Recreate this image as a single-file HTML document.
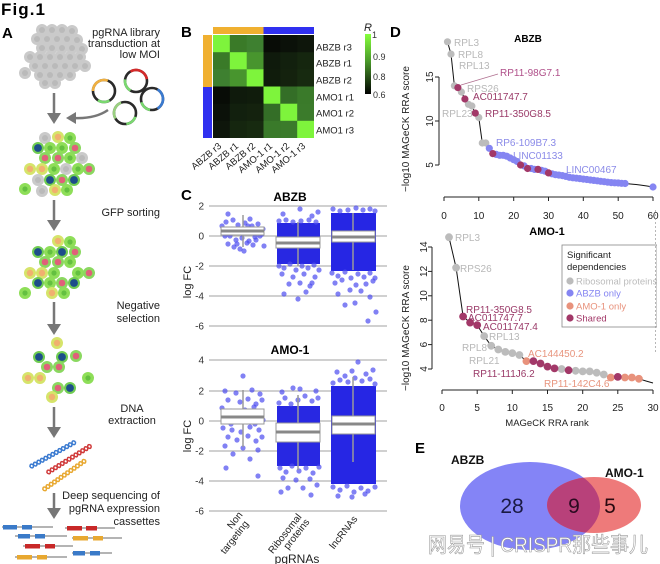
<!DOCTYPE html>
<html><head><meta charset="utf-8"><style>
html,body{margin:0;padding:0;background:#fff;}
svg{display:block;}
text{font-family:"Liberation Sans",Arial,sans-serif;}
</style></head><body>
<svg width="660" height="564" viewBox="0 0 660 564" xmlns="http://www.w3.org/2000/svg">
<defs>
<linearGradient id="cb" x1="0" y1="0" x2="0" y2="1">
<stop offset="0" stop-color="#86ff3c"/><stop offset="0.45" stop-color="#4a9a2a"/><stop offset="1" stop-color="#000"/>
</linearGradient>
<clipPath id="redclip"><ellipse cx="594" cy="505" rx="47" ry="28"/></clipPath>
<g id="cg"><circle r="6" fill="#cacaca"/><circle r="3" fill="#bababa"/></g>
<g id="cG"><circle r="6" fill="#8ede58"/><circle r="2.6" fill="#64c040"/></g>
<g id="cB"><circle r="6" fill="#70cc52"/><circle r="3.9" fill="#1d4d8a"/></g>
<g id="cP"><circle r="6" fill="#8ad860"/><circle r="3.3" fill="#e0607a"/></g>
<g id="cY"><circle r="6" fill="#d6e46a"/><circle r="3.2" fill="#f0b070"/></g>
<path id="wave1" d="M0,0 Q2,-4 4,0 T8,0 T12,0 T16,0 T20,0 T24,0 T28,0 T32,0 T36,0 T40,0 T44,0 T48,0 T52,0" fill="none"/>
<path id="wave2" d="M0,0 Q2,4 4,0 T8,0 T12,0 T16,0 T20,0 T24,0 T28,0 T32,0 T36,0 T40,0 T44,0 T48,0 T52,0" fill="none"/>
</defs>
<rect width="660" height="564" fill="#fff"/>

<!-- ============ PANEL A ============ -->
<text x="1" y="15" font-size="17" font-weight="bold" textLength="44">Fig.1</text>
<text x="2" y="38" font-size="15" font-weight="bold">A</text>

<g font-size="11" fill="#222" text-anchor="end">
<text x="160" y="36">pgRNA library</text>
<text x="160" y="47">transduction at</text>
<text x="160" y="58">low MOI</text>
<text x="160" y="216">GFP sorting</text>
<text x="160" y="309">Negative</text>
<text x="160" y="322">selection</text>
<text x="160" y="499">Deep sequencing of</text>
<text x="160" y="512">pgRNA expression</text>
<text x="160" y="525">cassettes</text>
</g>
<g font-size="11" fill="#222" text-anchor="middle">
<text x="132" y="412">DNA</text>
<text x="132" y="424">extraction</text>
</g>

<!-- gray cluster -->
<g>
<use href="#cg" x="42" y="30"/><use href="#cg" x="52" y="30"/><use href="#cg" x="62" y="30"/><use href="#cg" x="72" y="31"/>
<use href="#cg" x="37" y="39"/><use href="#cg" x="47" y="39"/><use href="#cg" x="57" y="39"/><use href="#cg" x="67" y="39"/><use href="#cg" x="77" y="40"/>
<use href="#cg" x="42" y="48"/><use href="#cg" x="52" y="48"/><use href="#cg" x="62" y="48"/><use href="#cg" x="72" y="48"/><use href="#cg" x="82" y="49"/>
<use href="#cg" x="30" y="57"/><use href="#cg" x="40" y="57"/><use href="#cg" x="50" y="57"/><use href="#cg" x="60" y="57"/><use href="#cg" x="70" y="57"/><use href="#cg" x="80" y="57"/>
<use href="#cg" x="35" y="66"/><use href="#cg" x="45" y="66"/><use href="#cg" x="55" y="66"/><use href="#cg" x="65" y="66"/><use href="#cg" x="75" y="66"/><use href="#cg" x="85" y="66"/>
<use href="#cg" x="25" y="73"/><use href="#cg" x="40" y="75"/><use href="#cg" x="50" y="75"/><use href="#cg" x="60" y="75"/><use href="#cg" x="70" y="75"/>
<use href="#cg" x="45" y="83"/><use href="#cg" x="55" y="83"/>
</g>

<!-- plasmids -->
<g fill="none" stroke-width="2.6">
<circle cx="136" cy="81" r="11" stroke="#2a2a2a"/>
<circle cx="136" cy="81" r="11" stroke="#d42a2a" stroke-dasharray="21 48.1" transform="rotate(-120 136 81)"/>
<circle cx="136" cy="81" r="11" stroke="#7ad870" stroke-dasharray="13 56.1" transform="rotate(120 136 81)"/>
<circle cx="104" cy="91" r="11" stroke="#2a2a2a"/>
<circle cx="104" cy="91" r="11" stroke="#f0b040" stroke-dasharray="21 48.1" transform="rotate(180 104 91)"/>
<circle cx="104" cy="91" r="11" stroke="#7ad870" stroke-dasharray="12 57.1" transform="rotate(60 104 91)"/>
<circle cx="152" cy="99" r="11" stroke="#2a2a2a"/>
<circle cx="152" cy="99" r="11" stroke="#3a7ad0" stroke-dasharray="23 46.1" transform="rotate(-60 152 99)"/>
<circle cx="152" cy="99" r="11" stroke="#7ad870" stroke-dasharray="12 57.1" transform="rotate(100 152 99)"/>
<circle cx="125" cy="113" r="11" stroke="#2a2a2a"/>
<circle cx="125" cy="113" r="11" stroke="#9ad080" stroke-dasharray="19 50.1" transform="rotate(150 125 113)"/>
<circle cx="125" cy="113" r="11" stroke="#7ad870" stroke-dasharray="12 57.1" transform="rotate(20 125 113)"/>
</g>
<path d="M108,110 Q95,119 74,118" fill="none" stroke="#777" stroke-width="2.5"/>
<polygon points="66,118 76,112 76,124" fill="#777"/>

<g fill="#777" stroke="#777" stroke-width="2.5">
<line x1="54" y1="93" x2="54" y2="114"/><polygon stroke="none" points="47,113 61,113 54,124"/>
<line x1="54" y1="200" x2="54" y2="221"/><polygon stroke="none" points="47,220 61,220 54,231"/>
<line x1="54" y1="302" x2="54" y2="325"/><polygon stroke="none" points="47,324 61,324 54,335"/>
<line x1="54" y1="407" x2="54" y2="428"/><polygon stroke="none" points="47,427 61,427 54,438"/>
<line x1="54" y1="493" x2="54" y2="509"/><polygon stroke="none" points="47,508 61,508 54,519"/>
</g>

<g>
<use href="#cg" x="45" y="138"/><use href="#cY" x="58" y="137"/><use href="#cG" x="70" y="138"/>
<use href="#cB" x="38" y="148"/><use href="#cG" x="50" y="148"/><use href="#cG" x="62" y="148"/><use href="#cP" x="75" y="148"/>
<use href="#cP" x="45" y="158"/><use href="#cP" x="58" y="158"/><use href="#cG" x="70" y="158"/><use href="#cg" x="82" y="158"/>
<use href="#cY" x="30" y="169"/><use href="#cY" x="42" y="169"/><use href="#cG" x="54" y="169"/><use href="#cg" x="66" y="169"/><use href="#cG" x="78" y="169"/><use href="#cP" x="89" y="169"/>
<use href="#cg" x="38" y="180"/><use href="#cB" x="50" y="180"/><use href="#cP" x="62" y="180"/><use href="#cB" x="74" y="180"/>
<use href="#cG" x="25" y="189"/><use href="#cg" x="42" y="191"/><use href="#cY" x="55" y="190"/><use href="#cG" x="67" y="190"/>
</g>
<g>
<use href="#cY" x="58" y="241"/><use href="#cG" x="70" y="242"/>
<use href="#cB" x="38" y="252"/><use href="#cG" x="50" y="252"/><use href="#cB" x="62" y="252"/><use href="#cP" x="75" y="252"/>
<use href="#cP" x="45" y="262"/><use href="#cP" x="58" y="262"/><use href="#cG" x="70" y="262"/>
<use href="#cY" x="30" y="273"/><use href="#cY" x="42" y="273"/><use href="#cG" x="54" y="273"/><use href="#cG" x="78" y="273"/><use href="#cP" x="89" y="273"/>
<use href="#cB" x="38" y="283"/><use href="#cG" x="50" y="283"/><use href="#cP" x="62" y="283"/><use href="#cB" x="74" y="283"/>
<use href="#cG" x="25" y="293"/><use href="#cY" x="52" y="293"/><use href="#cG" x="64" y="293"/>
</g>
<g>
<use href="#cY" x="57" y="343"/>
<use href="#cB" x="39" y="357"/><use href="#cB" x="62" y="357"/><use href="#cP" x="76" y="356"/>
<use href="#cP" x="47" y="367"/><use href="#cP" x="59" y="367"/>
<use href="#cY" x="28" y="378"/><use href="#cY" x="40" y="378"/><use href="#cG" x="88" y="378"/>
<use href="#cP" x="58" y="388"/><use href="#cB" x="70" y="388"/>
<use href="#cY" x="52" y="397"/>
</g>

<g stroke-width="1.5">
<g transform="translate(30,467) rotate(-29)" stroke="#3a7ad0"><use href="#wave1"/><use href="#wave2"/></g>
<g transform="translate(47,473) rotate(-32)" stroke="#d03a3a"><use href="#wave1"/><use href="#wave2"/></g>
<g transform="translate(43,490) rotate(-35)" stroke="#e8a830"><use href="#wave1"/><use href="#wave2"/></g>
</g>

<g stroke="#888" stroke-width="1.2">
<line x1="2" y1="527" x2="53" y2="527"/><line x1="65" y1="528" x2="115" y2="528"/>
<line x1="15" y1="536" x2="67" y2="536"/><line x1="72" y1="538" x2="122" y2="538"/>
<line x1="23" y1="546" x2="73" y2="546"/><line x1="72" y1="553" x2="112" y2="553"/>
<line x1="15" y1="557" x2="67" y2="557"/>
</g>
<g>
<rect x="3" y="525" width="14" height="4.5" fill="#3a7ac8"/><rect x="22" y="525" width="10" height="4.5" fill="#3a7ac8"/>
<rect x="67" y="526" width="15" height="4.5" fill="#c82828"/><rect x="86" y="526" width="11" height="4.5" fill="#c82828"/>
<rect x="18" y="534" width="12" height="4.5" fill="#3a7ac8"/><rect x="35" y="534" width="10" height="4.5" fill="#3a7ac8"/>
<rect x="73" y="536" width="15" height="4.5" fill="#e8a830"/><rect x="93" y="536" width="10" height="4.5" fill="#e8a830"/>
<rect x="25" y="544" width="15" height="4.5" fill="#c82828"/><rect x="45" y="544" width="10" height="4.5" fill="#c82828"/>
<rect x="73" y="551" width="12" height="4.5" fill="#3a7ac8"/><rect x="90" y="551" width="10" height="4.5" fill="#3a7ac8"/>
<rect x="17" y="555" width="15" height="4.5" fill="#e8a830"/><rect x="37" y="555" width="10" height="4.5" fill="#e8a830"/>
</g>

<!-- ============ PANEL B ============ -->
<text x="181" y="37" font-size="15" font-weight="bold">B</text>
<rect x="213" y="27" width="50.5" height="7" fill="#f0b030"/>
<rect x="263.5" y="27" width="50.5" height="7" fill="#3030f0"/>
<rect x="203" y="35" width="9" height="52" fill="#f0b030"/>
<rect x="203" y="87" width="9" height="51" fill="#3030f0"/>
<g>
<rect x="213" y="35" width="17.2" height="17.6" fill="#7ef43c"/>
<rect x="229.8" y="35" width="17.2" height="17.6" fill="#3a7a28"/>
<rect x="246.7" y="35" width="17.2" height="17.6" fill="#3e8030"/>
<rect x="263.5" y="35" width="17.2" height="17.6" fill="#080c06"/>
<rect x="280.3" y="35" width="17.2" height="17.6" fill="#0b1109"/>
<rect x="297.2" y="35" width="16.8" height="17.6" fill="#0e160b"/>
<rect x="213" y="52.2" width="17.2" height="17.6" fill="#3a7a28"/>
<rect x="229.8" y="52.2" width="17.2" height="17.6" fill="#7ef43c"/>
<rect x="246.7" y="52.2" width="17.2" height="17.6" fill="#48952e"/>
<rect x="263.5" y="52.2" width="17.2" height="17.6" fill="#0f1a0c"/>
<rect x="280.3" y="52.2" width="17.2" height="17.6" fill="#12200e"/>
<rect x="297.2" y="52.2" width="16.8" height="17.6" fill="#15260f"/>
<rect x="213" y="69.3" width="17.2" height="17.6" fill="#3e8030"/>
<rect x="229.8" y="69.3" width="17.2" height="17.6" fill="#48952e"/>
<rect x="246.7" y="69.3" width="17.2" height="17.6" fill="#7ef43c"/>
<rect x="263.5" y="69.3" width="17.2" height="17.6" fill="#101c0c"/>
<rect x="280.3" y="69.3" width="17.2" height="17.6" fill="#14220e"/>
<rect x="297.2" y="69.3" width="16.8" height="17.6" fill="#172a10"/>
<rect x="213" y="86.5" width="17.2" height="17.6" fill="#080c06"/>
<rect x="229.8" y="86.5" width="17.2" height="17.6" fill="#0f1a0c"/>
<rect x="246.7" y="86.5" width="17.2" height="17.6" fill="#101c0c"/>
<rect x="263.5" y="86.5" width="17.2" height="17.6" fill="#7ef43c"/>
<rect x="280.3" y="86.5" width="17.2" height="17.6" fill="#346e27"/>
<rect x="297.2" y="86.5" width="16.8" height="17.6" fill="#3a7a2a"/>
<rect x="213" y="103.7" width="17.2" height="17.6" fill="#0b1109"/>
<rect x="229.8" y="103.7" width="17.2" height="17.6" fill="#12200e"/>
<rect x="246.7" y="103.7" width="17.2" height="17.6" fill="#14220e"/>
<rect x="263.5" y="103.7" width="17.2" height="17.6" fill="#346e27"/>
<rect x="280.3" y="103.7" width="17.2" height="17.6" fill="#7ef43c"/>
<rect x="297.2" y="103.7" width="16.8" height="17.6" fill="#3b7b2b"/>
<rect x="213" y="120.8" width="17.2" height="17.2" fill="#0e160b"/>
<rect x="229.8" y="120.8" width="17.2" height="17.2" fill="#15260f"/>
<rect x="246.7" y="120.8" width="17.2" height="17.2" fill="#172a10"/>
<rect x="263.5" y="120.8" width="17.2" height="17.2" fill="#3a7a2a"/>
<rect x="280.3" y="120.8" width="17.2" height="17.2" fill="#3b7b2b"/>
<rect x="297.2" y="120.8" width="16.8" height="17.2" fill="#7ef43c"/>
</g>
<g font-size="9.5" fill="#222">
<text x="316" y="50.5">ABZB r3</text>
<text x="316" y="66.5">ABZB r1</text>
<text x="316" y="83.5">ABZB r2</text>
<text x="316" y="100.5">AMO1 r1</text>
<text x="316" y="116.5">AMO1 r2</text>
<text x="316" y="133.5">AMO1 r3</text>
</g>
<g font-size="9.5" fill="#222" text-anchor="end">
<text transform="translate(222,147) rotate(-40)">ABZB r3</text>
<text transform="translate(239,147) rotate(-40)">ABZB r1</text>
<text transform="translate(256,147) rotate(-40)">ABZB r2</text>
<text transform="translate(273,147) rotate(-40)">AMO-1 r1</text>
<text transform="translate(290,147) rotate(-40)">AMO-1 r2</text>
<text transform="translate(306,147) rotate(-40)">AMO-1 r3</text>
</g>
<rect x="365" y="34" width="6" height="60" fill="url(#cb)"/>
<text x="364" y="31" font-size="11" font-style="italic" fill="#222">R</text>
<g font-size="9" fill="#333">
<text x="372" y="38">1</text>
<text x="373" y="60">0.9</text>
<text x="373" y="80">0.8</text>
<text x="373" y="98">0.6</text>
</g>

<!-- ============ PANEL C ============ -->
<text x="181" y="200" font-size="15" font-weight="bold">C</text>
<text x="290" y="201" font-size="12" font-weight="bold" text-anchor="middle">ABZB</text>
<text x="290" y="354" font-size="12" font-weight="bold" text-anchor="middle">AMO-1</text>
<g stroke="#b4b4b4" stroke-width="1.3">
<line x1="209" y1="206" x2="387" y2="206"/><line x1="209" y1="236" x2="387" y2="236"/><line x1="209" y1="266" x2="387" y2="266"/><line x1="209" y1="296" x2="387" y2="296"/><line x1="209" y1="326" x2="387" y2="326"/>
<line x1="209" y1="360" x2="387" y2="360"/><line x1="209" y1="391" x2="387" y2="391"/><line x1="209" y1="421" x2="387" y2="421"/><line x1="209" y1="451" x2="387" y2="451"/><line x1="209" y1="481" x2="387" y2="481"/><line x1="209" y1="511" x2="387" y2="511"/>
</g>
<g font-size="10" fill="#333" text-anchor="end">
<text x="204" y="209.5">2</text><text x="204" y="239.5">0</text><text x="204" y="269.5">-2</text><text x="204" y="299.5">-4</text><text x="204" y="329.5">-6</text>
<text x="204" y="363.5">4</text><text x="204" y="394.5">2</text><text x="204" y="424.5">0</text><text x="204" y="454.5">-2</text><text x="204" y="484.5">-4</text><text x="204" y="514.5">-6</text>
</g>
<g font-size="11" fill="#222" text-anchor="middle">
<text transform="translate(191,282) rotate(-90)">log FC</text>
<text transform="translate(191,436) rotate(-90)">log FC</text>
</g>

<g fill="#4c4cf0" fill-opacity="0.7">
<rect x="277" y="223" width="43" height="41" fill="#2828e2" fill-opacity="1"/>
<rect x="331" y="213" width="45" height="58" fill="#2626e4" fill-opacity="1"/>
<circle cx="226" cy="222" r="2.6"/><circle cx="232" cy="229" r="2.6"/><circle cx="238" cy="225" r="2.6"/><circle cx="245" cy="223" r="2.6"/><circle cx="252" cy="226" r="2.6"/><circle cx="258" cy="224" r="2.6"/><circle cx="224" cy="231" r="2.6"/><circle cx="230" cy="236" r="2.6"/><circle cx="236" cy="240" r="2.6"/><circle cx="242" cy="238" r="2.6"/><circle cx="249" cy="241" r="2.6"/><circle cx="255" cy="237" r="2.6"/><circle cx="262" cy="234" r="2.6"/><circle cx="228" cy="244" r="2.6"/><circle cx="234" cy="247" r="2.6"/><circle cx="240" cy="249" r="2.6"/><circle cx="247" cy="243" r="2.6"/><circle cx="253" cy="245" r="2.6"/><circle cx="260" cy="236" r="2.6"/><circle cx="225" cy="236" r="2.6"/><circle cx="233" cy="220" r="2.6"/><circle cx="250" cy="219" r="2.6"/><circle cx="257" cy="230" r="2.6"/><circle cx="222" cy="226" r="2.6"/><circle cx="263" cy="229" r="2.6"/><circle cx="244" cy="251" r="2.6"/><circle cx="237" cy="244" r="2.6"/><circle cx="256" cy="240" r="2.6"/><circle cx="248" cy="226" r="2.6"/><circle cx="264" cy="246" r="2.6"/><circle cx="228" cy="214" r="2.6"/>
<circle cx="279" cy="221" r="2.6"/><circle cx="286" cy="220" r="2.6"/><circle cx="293" cy="222" r="2.6"/><circle cx="301" cy="221" r="2.6"/><circle cx="309" cy="220" r="2.6"/><circle cx="316" cy="222" r="2.6"/><circle cx="283" cy="214" r="2.6"/><circle cx="300" cy="209" r="2.6"/><circle cx="312" cy="216" r="2.6"/><circle cx="318" cy="212" r="2.6"/>
<circle cx="279" cy="266" r="2.6"/><circle cx="284" cy="268" r="2.6"/><circle cx="290" cy="264" r="2.6"/><circle cx="296" cy="270" r="2.6"/><circle cx="302" cy="266" r="2.6"/><circle cx="308" cy="268" r="2.6"/><circle cx="314" cy="265" r="2.6"/><circle cx="319" cy="270" r="2.6"/><circle cx="282" cy="274" r="2.6"/><circle cx="293" cy="277" r="2.6"/><circle cx="304" cy="274" r="2.6"/><circle cx="315" cy="277" r="2.6"/><circle cx="289" cy="284" r="2.6"/><circle cx="300" cy="283" r="2.6"/><circle cx="310" cy="286" r="2.6"/><circle cx="284" cy="294" r="2.6"/><circle cx="306" cy="292" r="2.6"/><circle cx="298" cy="299" r="2.6"/><circle cx="312" cy="283" r="2.6"/>
<circle cx="333" cy="209" r="2.6"/><circle cx="340" cy="211" r="2.6"/><circle cx="348" cy="210" r="2.6"/><circle cx="356" cy="208" r="2.6"/><circle cx="363" cy="210" r="2.6"/><circle cx="370" cy="209" r="2.6"/><circle cx="375" cy="211" r="2.6"/>
<circle cx="332" cy="273" r="2.6"/><circle cx="338" cy="276" r="2.6"/><circle cx="345" cy="272" r="2.6"/><circle cx="351" cy="278" r="2.6"/><circle cx="358" cy="274" r="2.6"/><circle cx="364" cy="277" r="2.6"/><circle cx="370" cy="273" r="2.6"/><circle cx="375" cy="278" r="2.6"/><circle cx="335" cy="283" r="2.6"/><circle cx="342" cy="280" r="2.6"/><circle cx="356" cy="285" r="2.6"/><circle cx="366" cy="284" r="2.6"/><circle cx="373" cy="281" r="2.6"/><circle cx="338" cy="294" r="2.6"/><circle cx="350" cy="290" r="2.6"/><circle cx="361" cy="291" r="2.6"/><circle cx="345" cy="305" r="2.6"/><circle cx="355" cy="303" r="2.6"/><circle cx="370" cy="297" r="2.6"/><circle cx="368" cy="321" r="2.6"/><circle cx="376" cy="312" r="2.6"/>
</g>
<g stroke="#9a9a9a" stroke-width="1.5">
<line x1="243" y1="215" x2="243" y2="247"/>
<line x1="298" y1="222" x2="298" y2="266"/>
<line x1="353" y1="213" x2="353" y2="270"/>
</g>
<g fill="#fff" stroke="#999" stroke-width="1">
<rect x="221" y="227" width="43" height="8"/>
<rect x="276" y="237" width="44" height="11"/>
<rect x="332" y="231" width="43" height="11"/>
</g>
<g stroke="#888" stroke-width="3">
<line x1="221" y1="231" x2="264" y2="231"/>
<line x1="276" y1="243" x2="320" y2="243"/>
<line x1="332" y1="237" x2="375" y2="237"/>
</g>

<g fill="#4c4cf0" fill-opacity="0.7">
<rect x="277" y="406" width="43" height="60" fill="#2828e2" fill-opacity="1"/>
<rect x="331" y="386" width="45" height="98" fill="#2626e4" fill-opacity="1"/>
<circle cx="243" cy="376" r="2.6"/><circle cx="225" cy="391" r="2.6"/><circle cx="236" cy="393" r="2.6"/><circle cx="252" cy="390" r="2.6"/><circle cx="260" cy="394" r="2.6"/><circle cx="228" cy="400" r="2.6"/><circle cx="240" cy="402" r="2.6"/><circle cx="248" cy="399" r="2.6"/><circle cx="256" cy="404" r="2.6"/><circle cx="262" cy="400" r="2.6"/><circle cx="222" cy="408" r="2.6"/><circle cx="231" cy="411" r="2.6"/><circle cx="245" cy="410" r="2.6"/><circle cx="254" cy="407" r="2.6"/><circle cx="226" cy="418" r="2.6"/><circle cx="235" cy="420" r="2.6"/><circle cx="244" cy="418" r="2.6"/><circle cx="258" cy="416" r="2.6"/><circle cx="263" cy="420" r="2.6"/><circle cx="223" cy="428" r="2.6"/><circle cx="232" cy="430" r="2.6"/><circle cx="241" cy="432" r="2.6"/><circle cx="250" cy="427" r="2.6"/><circle cx="259" cy="430" r="2.6"/><circle cx="228" cy="437" r="2.6"/><circle cx="237" cy="440" r="2.6"/><circle cx="248" cy="436" r="2.6"/><circle cx="256" cy="441" r="2.6"/><circle cx="262" cy="437" r="2.6"/><circle cx="225" cy="446" r="2.6"/><circle cx="243" cy="448" r="2.6"/><circle cx="258" cy="450" r="2.6"/><circle cx="233" cy="454" r="2.6"/><circle cx="250" cy="459" r="2.6"/><circle cx="226" cy="468" r="2.6"/><circle cx="258" cy="476" r="2.6"/><circle cx="239" cy="416" r="2.6"/><circle cx="247" cy="422" r="2.6"/><circle cx="231" cy="424" r="2.6"/><circle cx="255" cy="424" r="2.6"/>
<circle cx="279" cy="403" r="2.6"/><circle cx="285" cy="398" r="2.6"/><circle cx="291" cy="404" r="2.6"/><circle cx="298" cy="400" r="2.6"/><circle cx="305" cy="396" r="2.6"/><circle cx="312" cy="401" r="2.6"/><circle cx="318" cy="398" r="2.6"/><circle cx="282" cy="392" r="2.6"/><circle cx="300" cy="389" r="2.6"/><circle cx="316" cy="391" r="2.6"/><circle cx="293" cy="388" r="2.6"/>
<circle cx="280" cy="468" r="2.6"/><circle cx="286" cy="472" r="2.6"/><circle cx="292" cy="466" r="2.6"/><circle cx="299" cy="471" r="2.6"/><circle cx="306" cy="468" r="2.6"/><circle cx="313" cy="473" r="2.6"/><circle cx="319" cy="467" r="2.6"/><circle cx="283" cy="478" r="2.6"/><circle cx="296" cy="480" r="2.6"/><circle cx="310" cy="479" r="2.6"/><circle cx="288" cy="488" r="2.6"/><circle cx="303" cy="488" r="2.6"/><circle cx="317" cy="485" r="2.6"/><circle cx="281" cy="492" r="2.6"/><circle cx="311" cy="495" r="2.6"/>
<circle cx="333" cy="383" r="2.6"/><circle cx="340" cy="380" r="2.6"/><circle cx="348" cy="382" r="2.6"/><circle cx="355" cy="378" r="2.6"/><circle cx="362" cy="381" r="2.6"/><circle cx="370" cy="379" r="2.6"/><circle cx="375" cy="384" r="2.6"/><circle cx="337" cy="372" r="2.6"/><circle cx="352" cy="371" r="2.6"/><circle cx="366" cy="374" r="2.6"/><circle cx="358" cy="362" r="2.6"/><circle cx="345" cy="376" r="2.6"/><circle cx="373" cy="370" r="2.6"/>
<circle cx="333" cy="487" r="2.6"/><circle cx="340" cy="490" r="2.6"/><circle cx="347" cy="486" r="2.6"/><circle cx="354" cy="492" r="2.6"/><circle cx="361" cy="488" r="2.6"/><circle cx="368" cy="491" r="2.6"/><circle cx="375" cy="487" r="2.6"/><circle cx="338" cy="496" r="2.6"/><circle cx="352" cy="497" r="2.6"/><circle cx="365" cy="494" r="2.6"/>
</g>
<g stroke="#9a9a9a" stroke-width="1.5">
<line x1="243" y1="390" x2="243" y2="447"/>
<line x1="298" y1="395" x2="298" y2="470"/>
<line x1="353" y1="377" x2="353" y2="462"/>
</g>
<g fill="#fff" stroke="#999" stroke-width="1">
<rect x="221" y="409" width="43" height="15"/>
<rect x="276" y="423" width="44" height="19"/>
<rect x="332" y="416" width="43" height="18"/>
</g>
<g stroke="#888" stroke-width="3">
<line x1="221" y1="417" x2="264" y2="417"/>
<line x1="276" y1="432" x2="320" y2="432"/>
<line x1="332" y1="424" x2="375" y2="424"/>
</g>
<g font-size="10" fill="#222" text-anchor="end">
<text transform="translate(243,515) rotate(-52)">Non</text>
<text transform="translate(249,524) rotate(-52)">targeting</text>
<text transform="translate(302,517) rotate(-52)">Ribosomal</text>
<text transform="translate(310,522) rotate(-52)">proteins</text>
<text transform="translate(358,519) rotate(-52)">lncRNAs</text>
</g>
<text x="297" y="563" font-size="12" fill="#222" text-anchor="middle">pgRNAs</text>

<!-- ============ PANEL D ============ -->
<text x="390" y="37" font-size="15" font-weight="bold">D</text>
<text x="528" y="42" font-size="10" font-weight="bold" text-anchor="middle">ABZB</text>
<g stroke="#222" stroke-width="1" fill="none">
<line x1="439" y1="77" x2="439" y2="165"/>
<line x1="435" y1="77" x2="439" y2="77"/><line x1="435" y1="121" x2="439" y2="121"/><line x1="435" y1="165" x2="439" y2="165"/>
<line x1="444" y1="197" x2="653" y2="197"/>
<line x1="444" y1="197" x2="444" y2="201"/><line x1="478.8" y1="197" x2="478.8" y2="201"/><line x1="513.7" y1="197" x2="513.7" y2="201"/><line x1="548.5" y1="197" x2="548.5" y2="201"/><line x1="583.3" y1="197" x2="583.3" y2="201"/><line x1="618.2" y1="197" x2="618.2" y2="201"/><line x1="653" y1="197" x2="653" y2="201"/>
</g>
<g font-size="10" fill="#222" text-anchor="middle">
<text x="444" y="219">0</text><text x="478.8" y="219">10</text><text x="513.7" y="219">20</text><text x="548.5" y="219">30</text><text x="583.3" y="219">40</text><text x="618.2" y="219">50</text><text x="653" y="219">60</text>
<text transform="translate(433,77) rotate(-90)">15</text>
<text transform="translate(433,121) rotate(-90)">10</text>
<text transform="translate(433,165) rotate(-90)">5</text>
<text transform="translate(409,129) rotate(-90)">−log10 MAGeCK RRA score</text>
</g>
<polyline fill="none" stroke="#111" stroke-width="1" points="447.5,41.8 451,54.1 454.4,85.8 457.9,87.6 461.4,92 464.9,99 468.4,104.3 471.9,106 475.3,113.1 478.8,117.5 482.3,143 485.8,143 489.3,148.3 492.8,153.6 496.2,154.4 499.7,155.3 503.2,155.3 506.7,156.2 510.2,158 513.7,159.7 517.1,161.5 520.6,165 524.1,165.9 527.6,168.5 531.1,168.5 534.6,169.4 538,169.4 541.5,170.3 545,171.2 548.5,172.9 552,173.8 555.5,174.7 558.9,175.1 562.4,175.6 565.9,176.4 569.4,177.3 572.9,177.8 576.4,178.2 579.8,178.6 583.3,179.1 586.8,179.5 590.3,180 593.8,180.4 597.3,180.8 600.7,181.3 604.2,181.7 607.7,182.2 611.2,182.6 614.7,182.8 618.2,183 621.6,183.3 625.1,183.5 633,184.2 640,185 647,186 653,187"/>
<g>
<g fill="#bcbcbc">
<circle cx="447.5" cy="41.8" r="3.6"/><circle cx="451" cy="54.1" r="3.6"/><circle cx="454.4" cy="85.8" r="3.6"/><circle cx="461.4" cy="92" r="3.6"/><circle cx="468.4" cy="104.3" r="3.6"/><circle cx="471.9" cy="106" r="3.6"/><circle cx="478.8" cy="117.5" r="3.6"/><circle cx="482.3" cy="143" r="3.6"/><circle cx="485.8" cy="143" r="3.6"/>
</g>
<g fill="#8585f2">
<circle cx="489.3" cy="148.3" r="3.6"/><circle cx="496.2" cy="154.4" r="3.6"/><circle cx="499.7" cy="155.3" r="3.6"/><circle cx="503.2" cy="155.3" r="3.6"/><circle cx="506.7" cy="156.2" r="3.6"/><circle cx="510.2" cy="158" r="3.6"/><circle cx="513.7" cy="159.7" r="3.6"/><circle cx="517.1" cy="161.5" r="3.6"/><circle cx="524.1" cy="165.9" r="3.6"/><circle cx="531.1" cy="168.5" r="3.6"/><circle cx="534.6" cy="169.4" r="3.6"/><circle cx="541.5" cy="170.3" r="3.6"/><circle cx="545" cy="171.2" r="3.6"/><circle cx="552" cy="173.8" r="3.6"/><circle cx="555.5" cy="174.7" r="3.6"/><circle cx="558.9" cy="175.1" r="3.6"/><circle cx="562.4" cy="175.6" r="3.6"/><circle cx="565.9" cy="176.4" r="3.6"/><circle cx="569.4" cy="177.3" r="3.6"/><circle cx="572.9" cy="177.8" r="3.6"/><circle cx="576.4" cy="178.2" r="3.6"/><circle cx="579.8" cy="178.6" r="3.6"/><circle cx="583.3" cy="179.1" r="3.6"/><circle cx="586.8" cy="179.5" r="3.6"/><circle cx="590.3" cy="180" r="3.6"/><circle cx="593.8" cy="180.4" r="3.6"/><circle cx="597.3" cy="180.8" r="3.6"/><circle cx="600.7" cy="181.3" r="3.6"/><circle cx="604.2" cy="181.7" r="3.6"/><circle cx="607.7" cy="182.2" r="3.6"/><circle cx="611.2" cy="182.6" r="3.6"/><circle cx="614.7" cy="182.8" r="3.6"/><circle cx="618.2" cy="183" r="3.6"/><circle cx="621.6" cy="183.3" r="3.6"/><circle cx="625.1" cy="183.5" r="3.6"/><circle cx="653" cy="187" r="3.6"/>
</g>
<g fill="#a23868">
<circle cx="457.9" cy="87.6" r="3.6"/><circle cx="464.9" cy="99" r="3.6"/><circle cx="475.3" cy="113.1" r="3.6"/><circle cx="492.8" cy="153.6" r="3.6"/><circle cx="520.6" cy="165" r="3.6"/><circle cx="527.6" cy="168.5" r="3.6"/><circle cx="538" cy="169.4" r="3.6"/><circle cx="548.5" cy="172.9" r="3.6"/>
</g>
</g>
<line x1="461" y1="85" x2="498" y2="74" stroke="#b07090" stroke-width="0.8"/>
<g font-size="10">
<text x="454" y="46" fill="#b8b8b8">RPL3</text>
<text x="458" y="58" fill="#b8b8b8">RPL8</text>
<text x="459" y="69" fill="#b8b8b8">RPL13</text>
<text x="500" y="76" fill="#b0508a">RP11-98G7.1</text>
<text x="467" y="92" fill="#b8b8b8">RPS26</text>
<text x="473" y="100" fill="#9a3a68">AC011747.7</text>
<text x="442" y="117" fill="#b8b8b8">RPL23</text>
<text x="485" y="117" fill="#9a3a68">RP11-350G8.5</text>
<text x="496" y="146" fill="#8a8ae8">RP6-109B7.3</text>
<text x="513" y="159" fill="#8a8ae8">LINC01133</text>
<text x="566" y="173" fill="#8a8ae8">LINC00467</text>
</g>

<text x="547" y="235" font-size="11" font-weight="bold" text-anchor="middle">AMO-1</text>
<g stroke="#222" stroke-width="1" fill="none">
<line x1="432" y1="247" x2="432" y2="369"/>
<line x1="428" y1="247" x2="432" y2="247"/><line x1="428" y1="271.4" x2="432" y2="271.4"/><line x1="428" y1="295.8" x2="432" y2="295.8"/><line x1="428" y1="320.2" x2="432" y2="320.2"/><line x1="428" y1="344.6" x2="432" y2="344.6"/><line x1="428" y1="369" x2="432" y2="369"/>
<line x1="442" y1="390" x2="653" y2="390"/>
<line x1="442" y1="390" x2="442" y2="394"/><line x1="477.2" y1="390" x2="477.2" y2="394"/><line x1="512.3" y1="390" x2="512.3" y2="394"/><line x1="547.5" y1="390" x2="547.5" y2="394"/><line x1="582.7" y1="390" x2="582.7" y2="394"/><line x1="617.8" y1="390" x2="617.8" y2="394"/><line x1="653" y1="390" x2="653" y2="394"/>
</g>
<g font-size="10" fill="#222" text-anchor="middle">
<text x="442" y="411">0</text><text x="477.2" y="411">5</text><text x="512.3" y="411">10</text><text x="547.5" y="411">15</text><text x="582.7" y="411">20</text><text x="617.8" y="411">25</text><text x="653" y="411">30</text>
<text transform="translate(427,247) rotate(-90)">14</text>
<text transform="translate(427,271.4) rotate(-90)">12</text>
<text transform="translate(427,295.8) rotate(-90)">10</text>
<text transform="translate(427,320.2) rotate(-90)">8</text>
<text transform="translate(427,344.6) rotate(-90)">6</text>
<text transform="translate(427,369) rotate(-90)">4</text>
<text transform="translate(409,328) rotate(-90)">−log10 MAGeCK RRA score</text>
<text x="547" y="426" font-size="9.5">MAGeCK RRA rank</text>
</g>
<polyline fill="none" stroke="#111" stroke-width="1" points="449,237.2 456.1,267.7 463.1,316.5 470.1,322.6 477.2,325.1 484.2,336.1 491.2,345.8 498.3,349.5 505.3,351.9 512.3,353.1 519.4,355 526.4,361.1 533.4,361.1 540.5,363.5 547.5,366.6 554.5,368.4 561.6,369 568.6,370.2 575.6,370.8 582.7,371.4 589.7,371.4 596.7,372.7 603.8,374.5 610.8,377.5 617.8,376.9 624.9,377.5 631.9,377.5 638.9,378.8 646,381 653,383"/>
<g>
<g fill="#bcbcbc">
<circle cx="449" cy="237.2" r="3.9"/><circle cx="456.1" cy="267.7" r="3.9"/><circle cx="484.2" cy="336.1" r="3.9"/><circle cx="491.2" cy="345.8" r="3.9"/><circle cx="498.3" cy="349.5" r="3.9"/><circle cx="505.3" cy="351.9" r="3.9"/><circle cx="512.3" cy="353.1" r="3.9"/><circle cx="519.4" cy="355" r="3.9"/><circle cx="561.6" cy="369" r="3.9"/><circle cx="575.6" cy="370.8" r="3.9"/><circle cx="582.7" cy="371.4" r="3.9"/><circle cx="589.7" cy="371.4" r="3.9"/><circle cx="596.7" cy="372.7" r="3.9"/><circle cx="603.8" cy="374.5" r="3.9"/>
</g>
<g fill="#e8927c">
<circle cx="526.4" cy="361.1" r="3.9"/><circle cx="610.8" cy="377.5" r="3.9"/><circle cx="624.9" cy="377.5" r="3.9"/><circle cx="631.9" cy="377.5" r="3.9"/><circle cx="638.9" cy="378.8" r="3.9"/>
</g>
<g fill="#a23868">
<circle cx="463.1" cy="316.5" r="3.9"/><circle cx="470.1" cy="322.6" r="3.9"/><circle cx="477.2" cy="325.1" r="3.9"/><circle cx="533.4" cy="361.1" r="3.9"/><circle cx="540.5" cy="363.5" r="3.9"/><circle cx="547.5" cy="366.6" r="3.9"/><circle cx="554.5" cy="368.4" r="3.9"/><circle cx="568.6" cy="370.2" r="3.9"/><circle cx="617.8" cy="376.9" r="3.9"/>
</g>
</g>
<g font-size="10">
<text x="455" y="241" fill="#b8b8b8">RPL3</text>
<text x="460" y="272" fill="#b8b8b8">RPS26</text>
<text x="466" y="313" fill="#9a3a68">RP11-350G8.5</text>
<text x="468" y="321" fill="#9a3a68">AC011747.7</text>
<text x="483" y="330" fill="#9a3a68">AC011747.4</text>
<text x="489" y="340" fill="#b8b8b8">RPL13</text>
<text x="462" y="351" fill="#b8b8b8">RPL8</text>
<text x="469" y="364" fill="#b8b8b8">RPL21</text>
<text x="528" y="357" fill="#e8957e">AC144450.2</text>
<text x="473" y="377" fill="#9a3a68">RP11-111J6.2</text>
<text x="544" y="387" fill="#e8957e">RP11-142C4.6</text>
</g>
<rect x="562" y="245" width="95" height="82" fill="#fff" stroke="#888" stroke-width="0.8"/>
<g font-size="9.5">
<text x="567" y="258" fill="#222">Significant</text>
<text x="567" y="270" fill="#222">dependencies</text>
<circle cx="570" cy="281" r="3.6" fill="#bcbcbc"/><text x="576" y="284.5" fill="#bcbcbc">Ribosomal proteins</text>
<circle cx="570" cy="293" r="3.6" fill="#8585f2"/><text x="576" y="296.5" fill="#8585f2">ABZB only</text>
<circle cx="570" cy="306" r="3.6" fill="#e8927c"/><text x="576" y="309.5" fill="#e8927c">AMO-1 only</text>
<circle cx="570" cy="318" r="3.6" fill="#a23868"/><text x="576" y="321.5" fill="#a23868">Shared</text>
</g>
<rect x="657" y="240" width="3" height="90" fill="#fff"/>
<line x1="655.5" y1="210" x2="655.5" y2="353" stroke="#999" stroke-width="0.7" stroke-dasharray="2 2"/>

<!-- ============ PANEL E ============ -->
<text x="415" y="453" font-size="15" font-weight="bold">E</text>
<text x="451" y="464" font-size="12" font-weight="bold" fill="#111">ABZB</text>
<text x="605" y="477" font-size="12" font-weight="bold" fill="#111">AMO-1</text>
<ellipse cx="530" cy="506" rx="70" ry="44" fill="#8484f6"/>
<ellipse cx="594" cy="505" rx="47" ry="28" fill="#ee7a7a"/>
<ellipse cx="530" cy="506" rx="70" ry="44" fill="#b8417a" clip-path="url(#redclip)"/>
<g font-size="21" text-anchor="middle">
<text x="512" y="513" fill="#1a1a44">28</text>
<text x="574" y="513" fill="#2a0a20">9</text>
<text x="610" y="513" fill="#2a0a10">5</text>
</g>
<text x="428" y="552" font-family="'Noto Sans CJK SC','WenQuanYi Zen Hei',sans-serif" font-size="21" fill="#fff" stroke="#999" stroke-width="0.6" textLength="220" lengthAdjust="spacingAndGlyphs">网易号 | CRISPR那些事儿</text>
</svg>
</body></html>
